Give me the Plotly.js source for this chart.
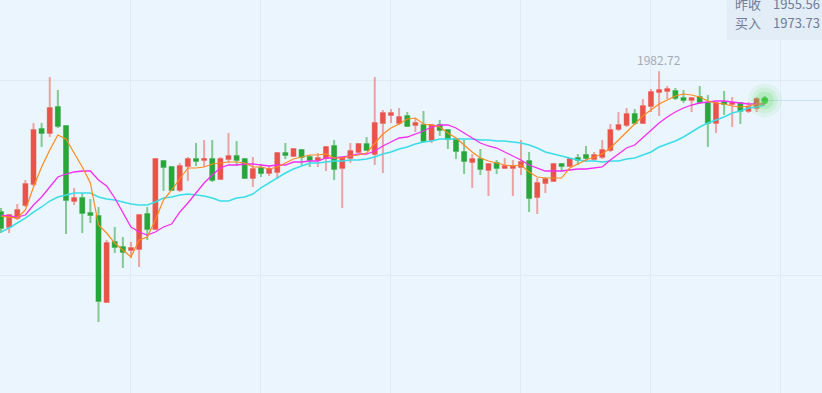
<!DOCTYPE html>
<html>
<head>
<meta charset="utf-8">
<script src="https://cdn.plot.ly/plotly-3.0.1.min.js"></script>
<style>html,body{margin:0;padding:0;background:#EBF5FD;overflow:hidden}#chart{width:822px;height:393px}</style>
</head>
<body>
<div id="chart"></div>
<script>
const opens = [
1939.38,1934.78,1937.54,1941.54,1948.01,1964.93,1963.70,1971.70,1965.85,1942.77,
1943.70,1939.08,1938.15,1911.69,1930.15,1928.62,1927.70,1928.00,1938.77,1934.16,
1955.08,1953.24,1946.16,1953.54,1955.70,1955.39,1955.70,1949.54,1955.70,1956.62,
1955.70,1949.85,1952.93,1951.39,1951.70,1957.54,1956.62,1958.47,1956.32,1955.39,
1956.01,1959.70,1952.93,1956.01,1957.85,1960.31,1957.24,1966.78,1969.24,1966.78,
1968.93,1966.16,1966.16,1961.54,1966.16,1964.62,1961.85,1957.85,1954.77,1955.70,
1952.31,1954.47,1952.93,1952.93,1953.24,1955.08,1944.00,1948.31,1948.93,1954.16,
1953.54,1956.01,1956.93,1955.70,1956.32,1958.47,1964.93,1966.16,1969.54,1966.78,
1972.00,1976.31,1976.62,1976.62,1974.46,1973.85,1974.77,1972.93,1966.78,1973.23,
1972.62,1972.93,1970.47,1971.39,1974.16];
const highs = [
1940.62,1938.77,1941.85,1949.24,1966.78,1966.78,1980.92,1976.93,1966.16,1946.78,
1945.24,1943.39,1940.93,1930.77,1934.78,1931.70,1930.15,1938.77,1940.93,1956.01,
1955.39,1953.54,1954.47,1956.32,1960.62,1961.54,1961.54,1956.32,1963.70,1961.23,
1956.01,1956.32,1954.16,1953.54,1957.85,1960.62,1959.08,1958.78,1956.93,1957.54,
1959.70,1961.54,1956.32,1960.62,1960.62,1962.47,1980.92,1970.77,1971.08,1971.39,
1970.16,1968.31,1970.47,1966.47,1967.70,1964.93,1962.16,1961.54,1957.24,1958.78,
1954.47,1955.39,1956.01,1955.39,1961.54,1957.85,1949.85,1950.16,1954.47,1954.47,
1956.01,1957.24,1959.70,1957.85,1961.54,1966.47,1970.16,1971.39,1971.08,1974.16,
1977.24,1982.72,1978.16,1977.54,1976.93,1974.77,1978.16,1975.39,1973.23,1976.62,
1974.77,1973.23,1973.23,1974.77,1975.08];
const lows = [
1932.93,1932.93,1936.93,1940.93,1947.39,1959.39,1962.47,1965.24,1932.62,1941.54,
1932.93,1936.01,1905.54,1911.39,1926.78,1922.16,1925.24,1922.47,1930.77,1933.85,
1945.85,1945.85,1945.54,1948.93,1953.54,1953.24,1948.62,1949.24,1954.47,1953.54,
1949.54,1947.08,1950.16,1950.47,1949.54,1955.70,1956.32,1953.85,1953.24,1953.24,
1952.00,1949.24,1940.62,1954.47,1957.54,1958.16,1953.85,1951.39,1966.78,1966.16,
1965.54,1964.00,1960.62,1960.62,1962.77,1958.78,1955.70,1951.08,1946.78,1950.77,
1944.31,1951.08,1952.62,1944.31,1950.77,1939.38,1938.77,1945.24,1948.62,1951.70,
1953.24,1953.85,1954.77,1955.08,1955.70,1957.85,1964.31,1965.54,1966.16,1966.47,
1970.16,1968.93,1974.16,1973.85,1972.93,1970.16,1972.62,1959.39,1963.70,1969.24,
1965.54,1966.47,1969.85,1970.16,1972.62];
const closes = [
1934.47,1938.46,1940.00,1948.01,1964.62,1963.70,1971.39,1965.85,1943.08,1943.70,
1939.08,1938.46,1912.00,1929.85,1928.62,1927.08,1928.31,1938.46,1934.16,1955.70,
1953.24,1946.16,1953.54,1955.70,1955.08,1955.70,1949.24,1955.70,1956.62,1955.39,
1949.85,1952.62,1951.39,1952.62,1957.54,1956.93,1958.78,1956.32,1955.39,1956.01,
1959.39,1952.62,1956.01,1958.16,1960.31,1958.47,1966.78,1969.85,1969.85,1968.62,
1965.85,1966.78,1961.23,1966.16,1964.62,1961.85,1958.16,1955.08,1955.70,1952.62,
1954.16,1952.93,1953.54,1953.54,1954.77,1943.70,1948.31,1949.54,1954.16,1953.54,
1955.70,1955.39,1956.01,1956.93,1958.47,1964.62,1966.16,1969.54,1966.78,1972.00,
1976.31,1976.93,1977.24,1974.46,1973.85,1974.46,1973.23,1966.78,1972.93,1972.62,
1972.93,1970.47,1971.70,1974.16,1973.73];
const ma5 = [
1938.15,1937.85,1937.54,1940.00,1947.08,1953.24,1958.47,1963.08,1961.85,1957.54,
1953.24,1948.31,1935.39,1932.93,1929.85,1927.70,1925.54,1930.77,1931.70,1936.93,
1943.08,1946.16,1949.54,1952.93,1952.93,1953.24,1954.16,1954.47,1954.77,1954.77,
1954.47,1953.24,1953.24,1952.62,1953.24,1954.47,1955.70,1956.32,1956.93,1956.93,
1957.24,1956.01,1956.01,1956.62,1956.93,1957.54,1960.62,1963.39,1965.24,1966.47,
1968.00,1968.31,1966.47,1966.16,1965.54,1963.70,1962.16,1960.00,1957.85,1956.01,
1955.08,1954.47,1953.85,1953.54,1953.85,1951.70,1950.16,1949.85,1949.85,1949.85,
1952.93,1954.16,1955.39,1956.32,1957.24,1959.08,1961.54,1964.31,1966.78,1968.93,
1970.77,1972.62,1973.85,1975.08,1975.70,1975.39,1974.77,1973.54,1972.93,1972.62,
1972.00,1971.70,1972.00,1972.62,1972.62];
const ma10 = [
1938.46,1938.15,1937.85,1938.46,1941.54,1944.00,1947.08,1950.16,1951.08,1951.70,
1952.00,1952.00,1949.24,1947.39,1943.70,1939.38,1934.78,1933.23,1932.31,1933.23,
1934.78,1935.70,1939.38,1942.16,1945.24,1948.31,1950.77,1952.93,1953.85,1953.85,
1954.16,1954.16,1953.85,1953.54,1953.85,1953.85,1954.77,1954.77,1955.08,1955.08,
1956.01,1956.01,1956.32,1956.62,1957.24,1957.24,1958.16,1959.70,1960.93,1962.16,
1962.47,1963.39,1964.31,1965.54,1966.16,1966.16,1965.24,1963.70,1962.16,1960.62,
1959.70,1959.08,1957.85,1956.62,1955.39,1953.85,1952.93,1952.00,1952.00,1952.00,
1952.31,1952.62,1952.62,1952.93,1953.24,1955.39,1957.24,1959.08,1960.00,1962.16,
1964.62,1966.78,1968.62,1970.16,1971.39,1972.31,1972.93,1973.23,1973.54,1973.54,
1973.23,1972.93,1972.62,1972.62,1972.62];
const ma20 = [
1933.23,1934.47,1936.01,1937.54,1939.38,1940.93,1942.77,1944.00,1944.62,1945.24,
1945.24,1945.24,1944.00,1943.39,1943.08,1942.47,1941.85,1941.54,1941.54,1942.47,
1943.70,1944.00,1944.62,1944.93,1944.62,1944.31,1943.70,1942.77,1942.77,1943.70,
1944.00,1944.93,1946.78,1948.31,1949.85,1951.39,1952.62,1953.54,1954.47,1954.47,
1954.77,1955.08,1955.08,1955.39,1955.39,1955.70,1956.32,1957.24,1957.85,1958.78,
1959.39,1960.31,1960.93,1961.23,1961.85,1961.85,1961.85,1961.85,1961.85,1961.54,
1961.54,1961.23,1961.23,1960.93,1960.62,1960.00,1959.08,1957.85,1957.24,1956.62,
1956.01,1955.39,1955.08,1955.08,1954.77,1955.08,1955.08,1955.70,1956.01,1956.93,
1957.85,1959.39,1960.31,1961.23,1962.47,1964.00,1965.54,1966.78,1967.70,1968.62,
1969.85,1970.47,1971.39,1971.70,1972.31];
const prevCloseLabel = '昨收', prevClose = 1955.56;
const buyLabel = '买入', buyPrice = 1973.73;

const xs = closes.map((_, i) => i);
const bodyHigh = opens.map((o, i) => Math.max(o, closes[i]));
const bodyLow = opens.map((o, i) => Math.min(o, closes[i]));
const RED = '#E9534A', GREEN = '#29A63A';
const lastI = xs.length - 1, lastC = closes[lastI];
let maxI = 0; highs.forEach((h, i) => { if (h > highs[maxI]) maxI = i; });

const traces = [
  { type: 'candlestick', x: xs, open: opens, high: highs, low: lows, close: closes,
    width: 0.8, whiskerwidth: 0,
    increasing: { line: { color: 'rgba(233,83,74,0.5)', width: 2 }, fillcolor: 'rgba(233,83,74,0.5)' },
    decreasing: { line: { color: 'rgba(41,166,58,0.55)', width: 2 }, fillcolor: 'rgba(41,166,58,0.55)' },
    hoverinfo: 'skip', showlegend: false },
  { type: 'candlestick', x: xs, open: opens, high: bodyHigh, low: bodyLow, close: closes,
    width: 0.8, whiskerwidth: 0,
    increasing: { line: { color: RED, width: 1 }, fillcolor: RED },
    decreasing: { line: { color: GREEN, width: 1 }, fillcolor: GREEN },
    hoverinfo: 'skip', showlegend: false },
  { type: 'scatter', mode: 'lines', x: xs, y: ma20, line: { color: '#3ADDEA', width: 1.5 }, hoverinfo: 'skip', showlegend: false },
  { type: 'scatter', mode: 'lines', x: xs, y: ma10, line: { color: '#F52CF5', width: 1.3 }, hoverinfo: 'skip', showlegend: false },
  { type: 'scatter', mode: 'lines', x: xs, y: ma5, line: { color: '#FF8A1C', width: 1.2 }, hoverinfo: 'skip', showlegend: false },
  { type: 'scatter', mode: 'markers', x: [lastI, lastI, lastI, lastI], y: [lastC, lastC, lastC, lastC],
    marker: { size: [34, 26, 18, 7], color: ['rgba(90,220,90,0.12)', 'rgba(90,220,90,0.18)', 'rgba(90,220,90,0.3)', '#3DCB3D'], line: { width: 0 } },
    hoverinfo: 'skip', showlegend: false }
];

const layout = {
  width: 822, height: 393, autosize: false,
  margin: { l: 0, r: 0, t: 0, b: 0, pad: 0 },
  paper_bgcolor: '#EBF5FD', plot_bgcolor: '#EBF5FD',
  showlegend: false,
  xaxis: { range: [-0.123, 101.05], showticklabels: false, ticks: '', zeroline: false, showline: false,
    rangeslider: { visible: false }, tickmode: 'array', tickvals: [15.88, 31.88, 47.88, 63.88, 79.88, 95.88],
    showgrid: true, gridcolor: '#DEEBF7', gridwidth: 1, fixedrange: true },
  yaxis: { range: [1883.70, 2004.62], showticklabels: false, ticks: '', zeroline: false, showline: false,
    tickmode: 'array', tickvals: [1920, 1980], showgrid: true, gridcolor: '#DEEBF7', gridwidth: 1, fixedrange: true },
  shapes: [
    { type: 'line', xref: 'x', yref: 'y', x0: lastI, x1: 101.05, y0: lastC, y1: lastC,
      line: { color: '#CCDDF3', width: 1 }, layer: 'below' },
    { type: 'rect', xref: 'paper', yref: 'paper', x0: 727/822, x1: 1, y0: 1 - 40/393, y1: 1.01,
      fillcolor: '#E3EDF7', line: { width: 0 }, layer: 'above' }
  ],
  annotations: [
    { x: maxI, y: highs[maxI], xref: 'x', yref: 'y', text: highs[maxI].toFixed(2), showarrow: false,
      yanchor: 'bottom', yshift: 1, font: { family: 'Noto Sans CJK SC, Noto Sans, sans-serif', size: 12, color: '#A3ABB5' } },
    { xref: 'paper', yref: 'paper', x: 733/822, y: 1 - 4/393, xanchor: 'left', yanchor: 'middle', text: prevCloseLabel, showarrow: false,
      font: { family: 'Noto Sans CJK SC, sans-serif', size: 13, color: '#6E7C99' } },
    { xref: 'paper', yref: 'paper', x: 771/822, y: 1 - 4/393, xanchor: 'left', yanchor: 'middle', text: prevClose.toFixed(2), showarrow: false,
      font: { family: 'Noto Sans CJK SC, sans-serif', size: 13, color: '#6E7C99' } },
    { xref: 'paper', yref: 'paper', x: 733/822, y: 1 - 22.5/393, xanchor: 'left', yanchor: 'middle', text: buyLabel, showarrow: false,
      font: { family: 'Noto Sans CJK SC, sans-serif', size: 13, color: '#6E7C99' } },
    { xref: 'paper', yref: 'paper', x: 771/822, y: 1 - 22.5/393, xanchor: 'left', yanchor: 'middle', text: buyPrice.toFixed(2), showarrow: false,
      font: { family: 'Noto Sans CJK SC, sans-serif', size: 13, color: '#6E7C99' } }
  ]
};

Plotly.newPlot('chart', traces, layout, { staticPlot: true, displayModeBar: false });
</script>
</body>
</html>
